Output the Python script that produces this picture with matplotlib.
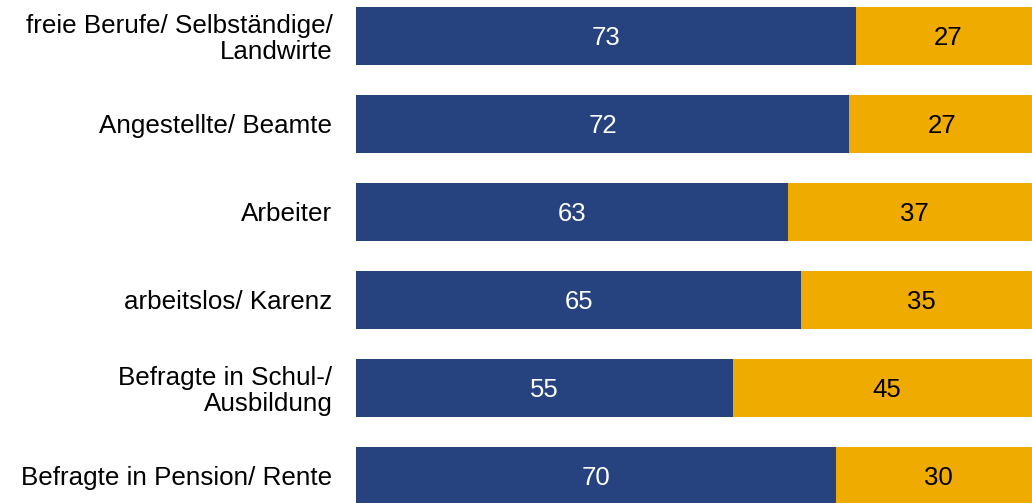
import numpy as np
import matplotlib.pyplot as plt

plt.rcParams['font.family'] = ['Liberation Sans', 'DejaVu Sans']

# DATA

categories = [
    "freie Berufe/ Selbständige/\nLandwirte",
    "Angestellte/ Beamte",
    "Arbeiter",
    "arbeitslos/ Karenz",
    "Befragte in Schul-/\nAusbildung",
    "Befragte in Pension/ Rente",
]
share_a = [73, 72, 63, 65, 55, 70]
share_b = [27, 27, 37, 35, 45, 30]

navy = "#26427F"
gold = "#F0AB00"

# PLOT

fig = plt.figure(figsize=(10.32, 5.03), dpi=100)
ax = fig.add_axes([356 / 1032, 0, 1 - 356 / 1032, 1])

y = np.arange(len(categories))
bar_h = 0.66

ax.barh(y, share_a, height=bar_h, color=navy)
ax.barh(y, share_b, left=share_a, height=bar_h, color=gold)

# value labels, nudged a touch down to sit like the original
for yi, a, b in zip(y, share_a, share_b):
    ax.text(a / 2, yi + 0.025, str(a), ha="center", va="center",
            color="white", fontsize=18.5)
    ax.text(a + b / 2, yi + 0.025, str(b), ha="center", va="center",
            color="black", fontsize=18.5)

ax.set_xlim(0, (1032 - 356) / 6.85)
ax.set_ylim(5.307, -0.409)

ax.set_yticks(y)
ax.set_yticklabels(categories, fontsize=18.7, linespacing=1.1)
ax.tick_params(axis="y", length=0, pad=17)
ax.set_xticks([])

for s in ax.spines.values():
    s.set_visible(False)

plt.savefig("out.png", dpi=100)
